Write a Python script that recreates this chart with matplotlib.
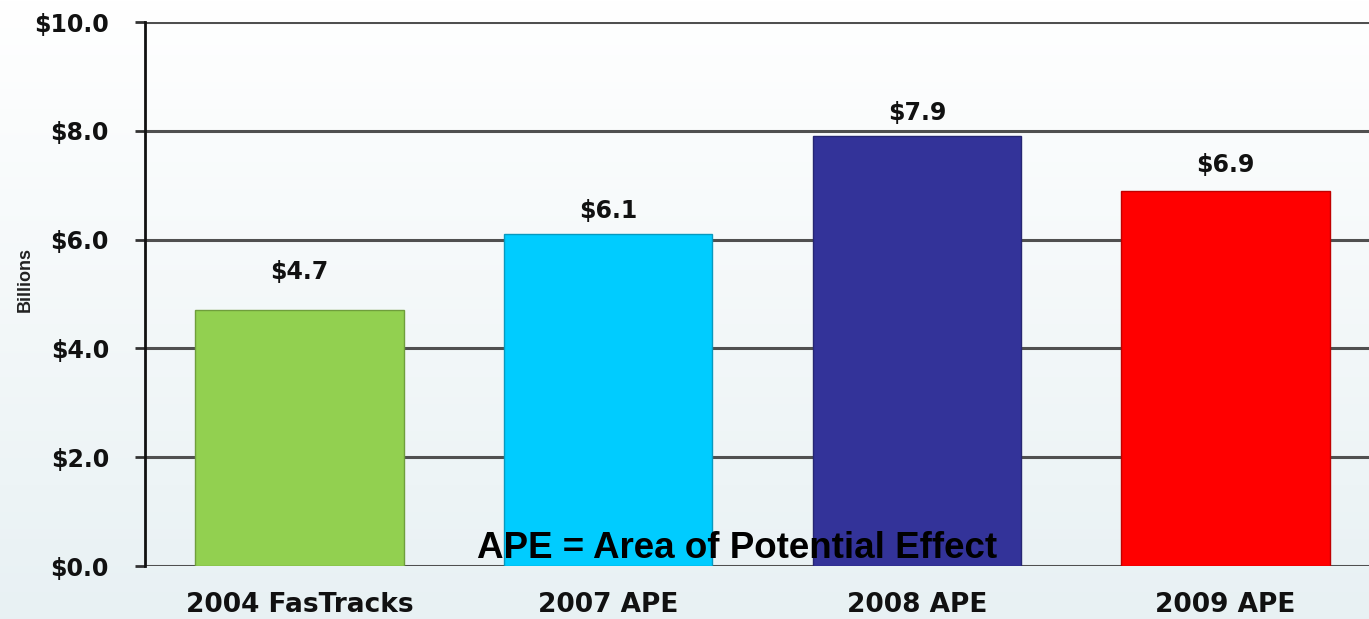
import numpy as np
import matplotlib.pyplot as plt

categories = ['2004 FasTracks', '2007 APE', '2008 APE', '2009 APE']
values = [4.7, 6.1, 7.9, 6.9]
bar_colors = ['#92D050', '#00CCFF', '#333399', '#FF0000']
edge_colors = ['#6F9E3C', '#0899BF', '#262673', '#C00000']
label_offsets = [38, 23, 23, 26]  # px above bar top
yticks = [0, 2, 4, 6, 8, 10]

W, H, DPI = 1369, 619, 100
fig = plt.figure(figsize=(W / DPI, H / DPI), dpi=DPI)

# soft vertical gradient behind everything
bg = fig.add_axes([0, 0, 1, 1], zorder=-10)
grad = np.linspace(0, 1, 256)[:, None]
top = np.array([1.0, 1.0, 1.0])
bot = np.array([0.91, 0.945, 0.955])
img = top + (bot - top) * grad[..., None]
bg.imshow(np.repeat(img, 2, axis=1), aspect='auto', extent=[0, 1, 0, 1])
bg.axis('off')

ax = fig.add_axes([145 / W, 1 - 566 / H, (1380 - 145) / W, (566 - 22) / H])
ax.patch.set_alpha(0)

x = np.arange(len(categories))
bars = ax.bar(x, values, width=0.675, color=bar_colors, edgecolor=edge_colors,
              linewidth=1.0, zorder=3)

for b, v, off in zip(bars, values, label_offsets):
    ax.annotate(f'${v:.1f}', (b.get_x() + b.get_width() / 2, v),
                xytext=(0, off * 72 / DPI), textcoords='offset points',
                ha='center', va='center', fontsize=17, fontweight='bold',
                family='DejaVu Sans', color='#111111')

ax.set_xlim(-0.5, 3.5)
ax.set_ylim(0, 10)
ax.set_yticks(yticks)
ax.set_yticklabels([f'${t:.1f}' for t in yticks], fontsize=17,
                   fontweight='bold', family='DejaVu Sans', color='#111111')
ax.set_xticks(x)
ax.set_xticklabels(categories, fontsize=19, fontweight='bold',
                   family='DejaVu Sans', color='#111111')
ax.tick_params(axis='x', length=0, pad=19)
ax.tick_params(axis='y', direction='out', length=7, width=2, color='#333333', pad=19)

ax.yaxis.grid(True, color='#505050', linewidth=2.2, zorder=1)
ax.set_axisbelow(True)
for s in ['top', 'right', 'bottom']:
    ax.spines[s].set_visible(False)
ax.spines['left'].set_linewidth(2)
ax.spines['left'].set_color('#111111')
ax.spines['left'].set_zorder(4)

fig.text(25 / W, 1 - 280 / H, 'Billions', rotation=90, ha='center', va='center',
         fontsize=13, fontweight='bold',
         family=['Liberation Sans Narrow', 'Liberation Sans'], color='#222222')

fig.text(737 / W, 1 - 548 / H, 'APE = Area of Potential Effect', ha='center',
         va='center', fontsize=26.5, fontweight='bold',
         family='Liberation Sans', color='black', zorder=10)

fig.savefig('out.png', dpi=DPI)
